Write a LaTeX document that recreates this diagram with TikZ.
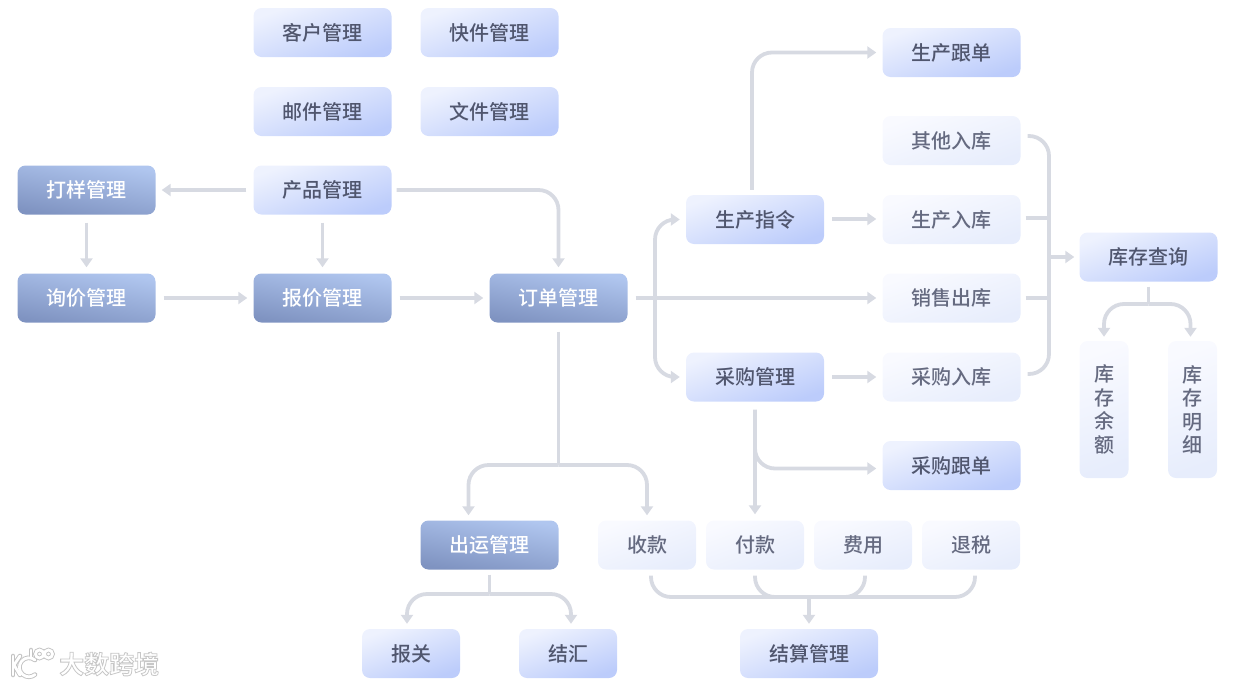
\documentclass[tikz,border=0pt]{standalone}
\usepackage{fontspec}
\setmainfont{Noto Sans CJK SC Medium}
\newfontfamily\wmfont{Noto Sans CJK SC Bold}
\usetikzlibrary{arrows.meta,calc}
\definecolor{inkdark}{HTML}{50566E}
\definecolor{linegrey}{HTML}{D7DAE2}
\tikzset{
  x=1pt,y=1pt,
  box/.style={rounded corners=8pt,minimum width=138pt,minimum height=49pt,inner sep=0pt,
    font=\fontsize{20}{23.5}\selectfont,align=center},
  lightbox/.style={box,text=inkdark,top color=F1,bottom color=F2,shading angle=20},
  darkbox/.style={box,text=white,top color=D1,bottom color=D2,shading angle=-10},
  faintbox/.style={box,text=inkdark!88,top color=P1,bottom color=P2,shading angle=20},
  narrow/.style={minimum width=98pt},
  tallbox/.style={minimum width=49pt,minimum height=137pt},
  conn/.style={draw=linegrey,line width=3.8pt},
  arr/.style={conn,-{Triangle[width=12pt,length=9pt]}},
  twoarr/.style={conn,{Triangle[width=12pt,length=9pt]}-{Triangle[width=12pt,length=9pt]}},
  curved/.style={rounded corners=20pt},
  markhalo/.style={draw=black!24,line width=4.6pt,line cap=round},
  markcore/.style={draw=white,line width=2.8pt,line cap=round},
}
\definecolor{F1}{HTML}{EEF2FE}\definecolor{F2}{HTML}{BCCCFB}
\definecolor{D1}{HTML}{B0C6EF}\definecolor{D2}{HTML}{7F93C1}
\definecolor{P1}{HTML}{F9FAFF}\definecolor{P2}{HTML}{E7EDFC}
\begin{document}
\begin{tikzpicture}
\useasboundingbox (0,0) rectangle (1234,-686);
% nodes
\node[lightbox] (kh) at (322.5,-32.5) {客户管理};
\node[lightbox] (kj) at (489.5,-32.5) {快件管理};
\node[lightbox] (yj) at (322.5,-111.5) {邮件管理};
\node[lightbox] (wj) at (489.5,-111.5) {文件管理};
\node[darkbox] (dy) at (86.5,-190) {打样管理};
\node[lightbox] (cp) at (322.5,-190) {产品管理};
\node[darkbox] (xj) at (86.5,-298) {询价管理};
\node[darkbox] (bj) at (322.5,-298) {报价管理};
\node[darkbox] (dd) at (558.5,-298) {订单管理};
\node[lightbox] (sc) at (755,-219.5) {生产指令};
\node[lightbox] (cg) at (755,-377) {采购管理};
\node[lightbox] (gd) at (951.5,-52.5) {生产跟单};
\node[faintbox] (qt) at (951.5,-140.5) {其他入库};
\node[faintbox] (si) at (951.5,-219.5) {生产入库};
\node[faintbox] (xs) at (951.5,-298) {销售出库};
\node[faintbox] (ci) at (951.5,-377) {采购入库};
\node[lightbox] (cd) at (951.5,-465.5) {采购跟单};
\node[lightbox] (kc) at (1148.5,-257) {库存查询};
\node[faintbox,tallbox] (ye) at (1104,-409.5) {库\\存\\余\\额};
\node[faintbox,tallbox] (mx) at (1192.5,-409.5) {库\\存\\明\\细};
\node[darkbox] (cy) at (489.5,-545) {出运管理};
\node[faintbox,narrow] (sk) at (647,-545) {收款};
\node[faintbox,narrow] (fk) at (755,-545) {付款};
\node[faintbox,narrow] (fy) at (863,-545) {费用};
\node[faintbox,narrow] (ts) at (971,-545) {退税};
\node[lightbox,narrow] (bg) at (411,-653.5) {报关};
\node[lightbox,narrow] (jh) at (568,-653.5) {结汇};
\node[lightbox] (js) at (809,-653.5) {结算管理};
% simple connectors
\draw[arr] ([xshift=-7pt]cp.west) -- ([xshift=6pt]dy.east);
\draw[arr] ([yshift=-8pt]dy.south) -- ([yshift=6pt]xj.north);
\draw[arr] ([yshift=-8pt]cp.south) -- ([yshift=6pt]bj.north);
\draw[arr] ([xshift=8pt]xj.east) -- ([xshift=-6pt]bj.west);
\draw[arr] ([xshift=8pt]bj.east) -- ([xshift=-6pt]dd.west);
\draw[arr,curved] ([xshift=5pt]cp.east) -| ([yshift=6pt]dd.north);
\draw[arr] ([xshift=8pt]dd.east) -- ([xshift=-6pt]xs.west);
\coordinate (fork) at (655,-298);
\draw[twoarr,curved] ([xshift=-6pt]sc.west) -| (fork) |- ([xshift=-6pt]cg.west);
\draw[arr,curved] ([xshift=-3pt,yshift=5pt]sc.north) |- ([xshift=-6pt]gd.west);
\draw[arr] ([xshift=8pt,yshift=.5pt]sc.east) -- ([xshift=-6pt,yshift=.5pt]si.west);
\draw[arr] ([xshift=8pt]cg.east) -- ([xshift=-6pt]ci.west);
\draw[arr] ([yshift=-8pt]cg.south) -- ([yshift=6pt]fk.north);
\draw[arr,curved] ([yshift=-8pt]cg.south) |- ([xshift=-6pt,yshift=-3pt]cd.west);
% order to shipping and receipts
\coordinate (ordbus) at (558.5,-465);
\draw[conn] ([yshift=-9pt]dd.south) -- (ordbus);
\draw[arr,curved] (ordbus) -| ([xshift=-21pt,yshift=5pt]cy.north);
\draw[arr,curved] (ordbus) -| ([yshift=5pt]sk.north);
% shipping split
\coordinate (shipbus) at (489.5,-594);
\draw[conn] ([yshift=-5pt]cy.south) -- (shipbus);
\draw[arr,curved] (shipbus) -| ([xshift=-4pt,yshift=5pt]bg.north);
\draw[arr,curved] (shipbus) -| ([xshift=3pt,yshift=5pt]jh.north);
% settlement bracket
\coordinate (setbus) at (809,-597);
\draw[conn,curved] ([xshift=4pt,yshift=-6pt]sk.south) |- (setbus) -| ([xshift=4pt,yshift=-6pt]ts.south);
\draw[conn,curved] ([yshift=-6pt]fk.south) |- (setbus) -| ([xshift=2pt,yshift=-6pt]fy.south);
\draw[arr] (setbus) -- ([yshift=5pt]js.north);
% stock bracket
\coordinate (stockbus) at (1049,-257);
\draw[conn,curved] ([xshift=7pt,yshift=4.5pt]qt.east) -| (stockbus) |- ([xshift=7pt,yshift=3pt]ci.east);
\draw[conn] ([xshift=5pt,yshift=1.5pt]si.east) -- ++(24,0);
\draw[conn] ([xshift=5pt]xs.east) -- ++(24,0);
\draw[arr] (stockbus) -- ([xshift=-5pt]kc.west);
% stock split
\coordinate (kcbus) at (1148.5,-304);
\draw[conn] ([yshift=-5pt]kc.south) -- (kcbus);
\draw[arr,curved] (kcbus) -| ([yshift=4pt]ye.north);
\draw[arr,curved] (kcbus) -| ([xshift=-2pt,yshift=4pt]mx.north);
% watermark logo
\foreach \layer in {markhalo,markcore}{
  \draw[\layer] (13,-656) -- (13,-675);
  \draw[\layer] (20,-656) -- (14,-665) -- (20,-675);
  \draw[\layer] (35,-660) arc[start angle=50,end angle=310,radius=9.5];
  \draw[\layer] (31,-650) -- (31,-657);
  \draw[\layer,line cap=butt] (39.5,-654) circle[radius=4];
  \draw[\layer,line cap=butt] (48.5,-654) circle[radius=4];
}
\node[inner sep=0pt,anchor=west,text=white,font=\wmfont\fontsize{25}{25}\selectfont] (wm) at (59,-664)
  {\special{pdf:code 2 Tr 0.8 w 0.78 0.78 0.78 RG}大数跨境\special{pdf:code 0 Tr}};
\end{tikzpicture}
\end{document}
